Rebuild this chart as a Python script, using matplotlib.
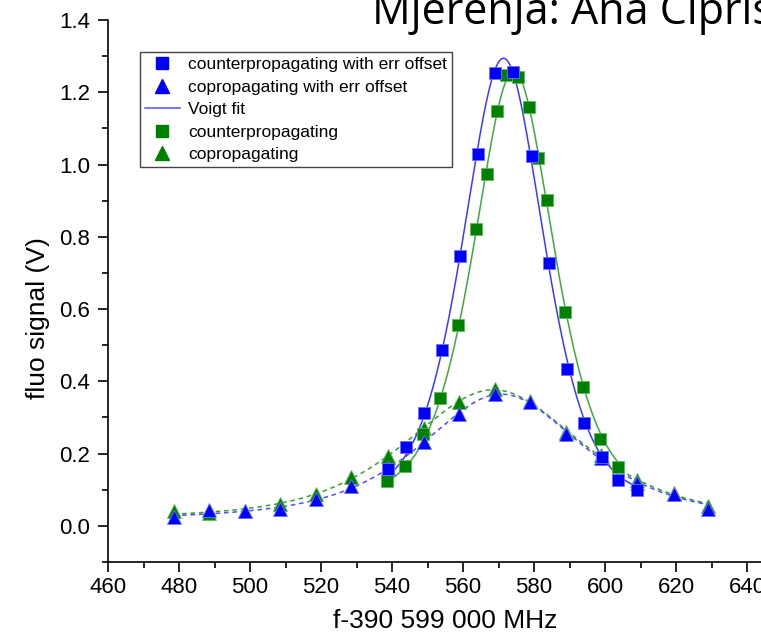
import numpy as np
import matplotlib
matplotlib.use("Agg")
import matplotlib.pyplot as plt
from matplotlib.ticker import MultipleLocator
from matplotlib.lines import Line2D

plt.rcParams['font.family'] = ['Liberation Sans', 'DejaVu Sans']

# counterpropagating with err offset (blue squares)
x_cnt_off = [539.0, 544.0, 549.0, 554.0, 559.2, 564.1, 569.0, 574.2, 579.4, 584.2,
             589.2, 594.1, 599.1, 603.8, 609.1]
y_cnt_off = [0.157, 0.218, 0.312, 0.488, 0.748, 1.029, 1.252, 1.257, 1.023, 0.727,
             0.434, 0.285, 0.190, 0.127, 0.098]

# counterpropagating (green squares)
x_cnt = [538.5, 543.6, 548.6, 553.5, 558.7, 563.7, 566.7, 569.7, 572.1, 575.6,
         578.7, 581.2, 583.7, 588.8, 593.7, 598.7, 603.6]
y_cnt = [0.125, 0.166, 0.255, 0.353, 0.556, 0.821, 0.975, 1.147, 1.248, 1.241,
         1.158, 1.017, 0.903, 0.591, 0.385, 0.240, 0.162]

# copropagating with err offset (blue triangles)
x_co = [478.5, 488.5, 498.5, 508.5, 518.5, 528.5, 539.0, 549.0, 559.0, 569.0,
        579.0, 589.0, 599.0, 609.0, 619.5, 629.0]
y_co_off = [0.025, 0.043, 0.040, 0.046, 0.074, 0.111, 0.160, 0.231, 0.310, 0.365,
            0.342, 0.255, 0.188, 0.118, 0.088, 0.048]
# copropagating (green triangles)
y_co = [0.042, 0.035, 0.042, 0.060, 0.088, 0.136, 0.192, 0.272, 0.342, 0.379,
        0.345, 0.259, 0.195, 0.127, 0.092, 0.055]

BLUE = '#0000ff'
GREEN = '#008000'


def pvoigt(x, x0, w, eta):
    d = x - x0
    lor = 1.0 / (1.0 + (2.0 * d / w) ** 2)
    gau = np.exp(-4.0 * np.log(2.0) * (d / w) ** 2)
    return eta * lor + (1.0 - eta) * gau


def voigt_fit(xs, ys):
    # brute force grid over centre/width/shape, linear lsq for amplitude+offset
    xs, ys = np.asarray(xs), np.asarray(ys)
    xc = xs[np.argmax(ys)]
    x0 = np.arange(xc - 8, xc + 8, 0.2)[:, None, None, None]
    w = np.arange(10, 70, 0.5)[None, :, None, None]
    eta = np.linspace(0, 1, 11)[None, None, :, None]
    p = pvoigt(xs[None, None, None, :], x0, w, eta)
    pm = p.mean(-1, keepdims=True)
    ym = ys.mean()
    a = ((p - pm) * (ys - ym)).sum(-1, keepdims=True) / ((p - pm) ** 2).sum(-1, keepdims=True)
    c = ym - a * pm
    sse = ((a * p + c - ys) ** 2).sum(-1)
    i = np.unravel_index(np.argmin(sse), sse.shape)
    pars = (x0.ravel()[i[0]], w.ravel()[i[1]], eta.ravel()[i[2]], a[i][0], c[i][0])
    xf = np.linspace(xs.min(), xs.max(), 400)
    return xf, pars[3] * pvoigt(xf, *pars[:3]) + pars[4]


fig = plt.figure(figsize=(7.61, 6.39), dpi=100)
ax = fig.add_axes([108 / 761, 1 - 562 / 639, (782.5 - 108) / 761, (562 - 20) / 639])

for xs, ys, col, ls in [(x_co, y_co, '#33a033', (0, (3, 2.5))),
                        (x_co, y_co_off, '#4d4dff', (0, (3, 2.5))),
                        (x_cnt, y_cnt, '#40a840', '-'),
                        (x_cnt_off, y_cnt_off, '#3a3aff', '-')]:
    xf, yf = voigt_fit(xs, ys)
    ax.plot(xf, yf, color=col, lw=1.1, ls=ls, zorder=2)

ax.plot(x_co, y_co, ls='none', marker='^', ms=10.5, color=GREEN, mec='#5cb85c', mew=0.6, zorder=3)
ax.plot(x_cnt, y_cnt, ls='none', marker='s', ms=9, color=GREEN, mec='#5cb85c', mew=0.6, zorder=3)
ax.plot(x_co, y_co_off, ls='none', marker='^', ms=10.5, color=BLUE, mec='#7070ff', mew=0.6, zorder=4)
ax.plot(x_cnt_off, y_cnt_off, ls='none', marker='s', ms=9, color=BLUE, mec='#7070ff', mew=0.6, zorder=4)

ax.set_xlim(460, 650)
ax.set_ylim(-0.1, 1.4)
ax.spines['top'].set_visible(False)
ax.spines['right'].set_visible(False)
ax.xaxis.set_major_locator(MultipleLocator(20))
ax.xaxis.set_minor_locator(MultipleLocator(10))
ax.yaxis.set_major_locator(MultipleLocator(0.2))
ax.yaxis.set_minor_locator(MultipleLocator(0.1))
ax.tick_params(which='both', direction='out', width=1.2)
ax.tick_params(which='major', length=7, labelsize=16)
ax.tick_params(axis='y', which='major', pad=6)
ax.tick_params(which='minor', length=4)
ax.yaxis.set_major_formatter(plt.FormatStrFormatter('%.1f'))
ax.set_xticks(np.arange(460, 641, 20))
for s in ('left', 'bottom'):
    ax.spines[s].set_linewidth(1.2)

ax.set_xlabel('f-390 599 000 MHz', fontsize=19)
ax.xaxis.set_label_coords((445 - 108) / (782.5 - 108), -(621 - 562) / 542)
ax.xaxis.label.set_va('center')
ax.set_ylabel('fluo signal (V)', fontsize=19)
ax.yaxis.set_label_coords(-(108 - 38) / (782.5 - 108), (562 - 318) / 542)
ax.yaxis.label.set_va('center')

handles = [
    Line2D([], [], ls='none', marker='s', ms=8.5, color=BLUE),
    Line2D([], [], ls='none', marker='^', ms=10.5, color=BLUE),
    Line2D([], [], color='#4d4dff', lw=1.1),
    Line2D([], [], ls='none', marker='s', ms=8.5, color=GREEN),
    Line2D([], [], ls='none', marker='^', ms=10.5, color=GREEN),
]
labels = ['counterpropagating with err offset', 'copropagating with err offset',
          'Voigt fit', 'counterpropagating', 'copropagating']
leg = ax.legend(handles, labels, loc='upper left', bbox_to_anchor=(0.047, 0.941),
                borderaxespad=0, fontsize=12.5, fancybox=False, framealpha=1,
                edgecolor='#444444', handlelength=2.0, handletextpad=0.5,
                labelspacing=0.42, borderpad=0.3)
leg.get_frame().set_linewidth(1.0)

fig.text(372 / 761, 1 - 24 / 639, 'Mjerenja: Ana Cipriš', fontsize=31,
         family='Open Sans', ha='left', va='baseline')

fig.savefig('out.png', dpi=100)
